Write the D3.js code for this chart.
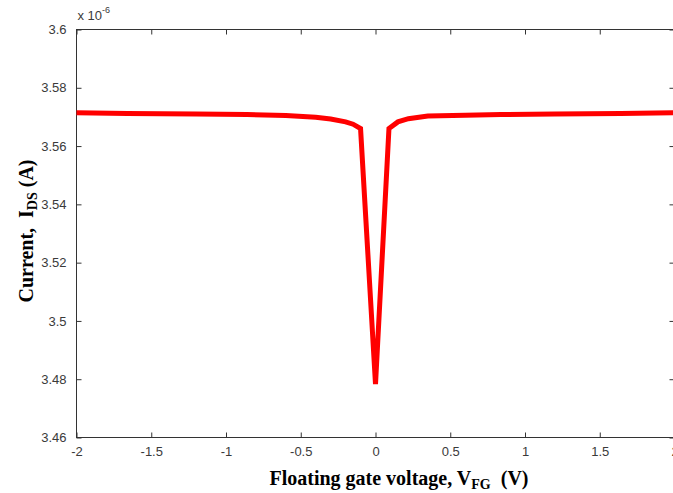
<!DOCTYPE html>
<html><head><meta charset="utf-8">
<script src="https://cdn.jsdelivr.net/npm/d3@7"></script>
<style>body{margin:0;background:#fff}svg{display:block}</style>
</head><body>
<svg id="c" width="673" height="493"></svg>
<script>
// data (current in units of 1e-6 A)
const vfg = [-2, -1.66, -1.2, -0.86, -0.6, -0.4, -0.3, -0.2, -0.15, -0.1, 0, 0.09, 0.15, 0.22, 0.35, 0.6, 0.84, 1.2, 1.64, 2];
const ids = [3.5714, 3.5712, 3.5710, 3.5708, 3.5705, 3.5699, 3.5693, 3.5683, 3.5675, 3.5660, 3.4783, 3.5660, 3.5683, 3.5694, 3.5703, 3.5706, 3.5708, 3.5710, 3.5712, 3.5714];
const xTicks = [-2, -1.5, -1, -0.5, 0, 0.5, 1, 1.5, 2];
const yTicks = [3.46, 3.48, 3.5, 3.52, 3.54, 3.56, 3.58, 3.6];

const svg = d3.select("#c");
const L = 76.5, T = 29.5, R = 674.5, B = 437.5;
const x = d3.scaleLinear().domain([-2, 2]).range([L, R]);
const y = d3.scaleLinear().domain([3.46, 3.6]).range([B, T]);
const axisCol = "#333", textCol = "#3a3a3a";
const sans = "Liberation Sans, Arial, sans-serif";
const serif = "Liberation Serif, Times New Roman, serif";

// box
svg.append("rect").attr("x", L).attr("y", T).attr("width", R - L).attr("height", B - T)
  .attr("fill", "none").attr("stroke", axisCol).attr("stroke-width", 1);

const fmt = d => String(+d.toFixed(2));
const tl = 5;
svg.append("g").attr("transform", `translate(0,${B})`)
  .call(d3.axisBottom(x).tickValues(xTicks).tickSize(-tl).tickPadding(9).tickFormat(fmt));
svg.append("g").attr("transform", `translate(0,${T})`)
  .call(d3.axisTop(x).tickValues(xTicks).tickSize(-tl).tickFormat(""));
svg.append("g").attr("transform", `translate(${L},0)`)
  .call(d3.axisLeft(y).tickValues(yTicks).tickSize(-tl).tickPadding(10).tickFormat(fmt));
svg.append("g").attr("transform", `translate(${R},0)`)
  .call(d3.axisRight(y).tickValues(yTicks).tickSize(-tl).tickFormat(""));

svg.selectAll(".domain").remove();
svg.selectAll(".tick line").attr("stroke", axisCol);
svg.selectAll(".tick text").attr("fill", textCol).attr("font-family", sans).attr("font-size", 13);

// exponent label
const ex = svg.append("text").attr("x", L + 1).attr("y", 20)
  .attr("font-family", sans).attr("font-size", 13).attr("fill", textCol);
ex.append("tspan").text("x 10");
ex.append("tspan").attr("dy", -7).attr("font-size", 9).text("-6");

// line
const line = d3.line().x((d, i) => x(vfg[i])).y(d => y(d));
svg.append("path").datum(ids).attr("d", line).attr("fill", "none")
  .attr("stroke", "#ff0000").attr("stroke-width", 5).attr("stroke-linejoin", "miter");

// x label
const xl = svg.append("text").attr("x", 399).attr("y", 485).attr("text-anchor", "middle")
  .attr("font-family", serif).attr("font-weight", "bold")
  .attr("font-size", 20).attr("fill", "#000");
xl.append("tspan").text("Floating gate voltage, V");
xl.append("tspan").attr("dy", 4).attr("font-size", 14).text("FG");
xl.append("tspan").attr("dy", -4).text("\u00a0 (V)");

// y label
const yl = svg.append("text").attr("transform", "translate(33,231) rotate(-90)").attr("text-anchor", "middle")
  .attr("font-family", serif).attr("font-weight", "bold")
  .attr("font-size", 20).attr("fill", "#000");
yl.append("tspan").text("Current,\u00a0 I");
yl.append("tspan").attr("dy", 4).attr("font-size", 14).text("DS");
yl.append("tspan").attr("dy", -4).text("\u00a0(A)");
</script>
</body></html>
